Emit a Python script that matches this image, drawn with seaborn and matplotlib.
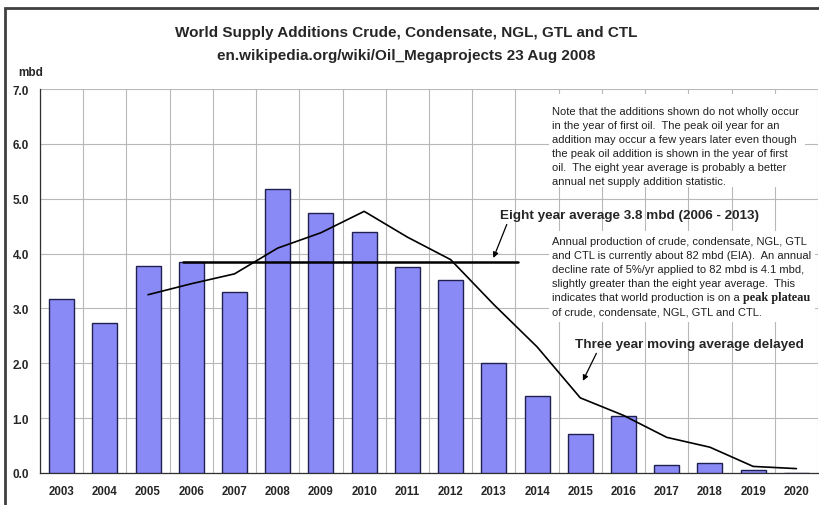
import matplotlib
matplotlib.use("Agg")
import matplotlib.pyplot as plt
from matplotlib import font_manager
from matplotlib.patches import Rectangle
import seaborn as sns
import pandas as pd

# ---- data ----
years = [2003, 2004, 2005, 2006, 2007, 2008, 2009, 2010, 2011, 2012,
         2013, 2014, 2015, 2016, 2017, 2018, 2019, 2020]
additions = [3.17, 2.74, 3.78, 3.85, 3.30, 5.17, 4.74, 4.40, 3.75, 3.52,
             2.00, 1.40, 0.72, 1.04, 0.15, 0.19, 0.05, 0.0]
ma_years = [2005, 2006, 2007, 2008, 2009, 2010, 2011, 2012, 2013, 2014,
            2015, 2016, 2017, 2018, 2019, 2020]
ma_values = [3.25, 3.45, 3.63, 4.10, 4.38, 4.77, 4.30, 3.89, 3.07, 2.30,
             1.37, 1.05, 0.65, 0.47, 0.12, 0.08]
avg8_value = 3.85
avg8_years = (2006, 2013)
yticks = [0.0, 1.0, 2.0, 3.0, 4.0, 5.0, 6.0, 7.0]

title = ("World Supply Additions Crude, Condensate, NGL, GTL and CTL\n"
         "en.wikipedia.org/wiki/Oil_Megaprojects 23 Aug 2008")
note1_lines = ["Note that the additions shown do not wholly occur",
               "in the year of first oil.  The peak oil year for an",
               "addition may occur a few years later even though",
               "the peak oil addition is shown in the year of first",
               "oil.  The eight year average is probably a better",
               "annual net supply addition statistic."]
note2_lines = ["Annual production of crude, condensate, NGL, GTL",
               "and CTL is currently about 82 mbd (EIA).  An annual",
               "decline rate of 5%/yr applied to 82 mbd is 4.1 mbd,",
               "slightly greater than the eight year average.  This",
               "indicates that world production is on a ",
               "of crude, condensate, NGL, GTL and CTL."]
note2_bold = "peak plateau"
note2_bold_line = 4
label_avg = "Eight year average 3.8 mbd (2006 - 2013)"
label_ma = "Three year moving average delayed"

# ---- fonts ----
def has_font(name):
    try:
        font_manager.findfont(font_manager.FontProperties(family=name),
                              fallback_to_default=False)
        return True
    except Exception:
        return False

narrow = "Liberation Sans Narrow" if has_font("Liberation Sans Narrow") else "Liberation Sans"
sns.set_style("white")
plt.rcParams["font.family"] = ["Liberation Sans", "DejaVu Sans"]

df = pd.DataFrame({"year": [str(y) for y in years], "add": additions})

fig = plt.figure(figsize=(8.2, 5.06), dpi=100)
ax = fig.add_axes([40 / 820, 32 / 506, 778 / 820, 384 / 506])

sns.barplot(data=df, x="year", y="add", ax=ax, color="#8a8af6",
            saturation=1, width=0.58, edgecolor="#202050", linewidth=1.0,
            zorder=3)

idx = {y: i for i, y in enumerate(years)}
ma_x = [idx[y] for y in ma_years]
sns.lineplot(x=ma_x, y=ma_values, ax=ax, color="black", linewidth=1.2,
             zorder=4)

x0 = idx[avg8_years[0]] - 0.2
x1 = idx[avg8_years[1]] + 0.55
ax.plot([x0, x1], [avg8_value, avg8_value], color="black", linewidth=1.8,
        zorder=4)

ax.set_xlim(-0.5, len(years) - 0.5)
ax.set_ylim(0, 7)
ax.set_yticks(yticks)
ax.set_yticklabels([f"{v:.1f}" for v in yticks], fontfamily=narrow,
                   fontweight="bold", fontsize=8.5)
ax.set_xticks(range(len(years)))
ax.set_xticklabels([str(y) for y in years], fontfamily=narrow,
                   fontweight="bold", fontsize=8.3)
ax.set_xticks([i + 0.5 for i in range(-1, len(years))], minor=True)
ax.tick_params(axis="x", which="major", length=0, pad=9)
ax.tick_params(axis="x", which="minor", length=5, direction="out",
               color="#303030", width=0.8)
ax.tick_params(axis="y", which="major", length=5, direction="out",
               color="#303030", width=0.8, pad=3)
ax.set_xlabel("")
ax.set_ylabel("")
ax.grid(False)
ax.grid(axis="y", which="major", color="#b8b8b8", linewidth=0.8, zorder=0)
ax.grid(axis="x", which="minor", color="#b8b8b8", linewidth=0.8, zorder=0)
ax.set_axisbelow(True)
for s in ["top", "right"]:
    ax.spines[s].set_visible(False)
for s in ["left", "bottom"]:
    ax.spines[s].set_color("#303030")
    ax.spines[s].set_linewidth(0.9)

# white boxes behind the notes
ax.add_patch(Rectangle((11.28, 5.21), 17.19 - 11.28, 6.91 - 5.21,
                       facecolor="white", edgecolor="none", zorder=5))
ax.add_patch(Rectangle((11.28, 2.75), 17.42 - 11.28, 4.41 - 2.75,
                       facecolor="white", edgecolor="none", zorder=5))

note_fs = 8.0
step_pt = 10.1
for i, line in enumerate(note1_lines):
    ax.annotate(line, xy=(11.34, 6.60), xytext=(0, -i * step_pt),
                textcoords="offset points", fontsize=note_fs, va="center",
                ha="left", color="#202020", zorder=6)
for i, line in enumerate(note2_lines):
    t = ax.annotate(line, xy=(11.34, 4.225), xytext=(0, -i * step_pt),
                    textcoords="offset points", fontsize=note_fs,
                    va="center", ha="left", color="#202020", zorder=6)
    if i == note2_bold_line:
        ax.annotate(note2_bold, xy=(1, 0.5), xycoords=t, fontsize=8.8,
                    fontfamily="Liberation Serif", fontweight="bold",
                    va="center", ha="left", color="#202020", zorder=6)

ax.annotate(label_avg, xy=(9.99, 3.92), xytext=(10.15, 4.70),
            fontsize=9.7, fontweight="bold", va="center", ha="left", zorder=7,
            arrowprops=dict(arrowstyle="-|>", color="black", lw=0.9,
                            mutation_scale=8, shrinkA=0, shrinkB=0,
                            relpos=(0.03, 0.0)))
ax.annotate(label_ma, xy=(12.06, 1.68), xytext=(11.88, 2.35),
            fontsize=9.7, fontweight="bold", va="center", ha="left", zorder=7,
            arrowprops=dict(arrowstyle="-|>", color="black", lw=0.9,
                            mutation_scale=8, shrinkA=0, shrinkB=0,
                            relpos=(0.1, 0.0)))

fig.text(406 / 820, 1 - 44.5 / 506, title, ha="center", va="center",
         fontfamily=narrow, fontweight="bold", fontsize=11,
         linespacing=1.75)
fig.text(18 / 820, 1 - 73 / 506, "mbd", ha="left", va="center",
         fontfamily=narrow, fontweight="bold", fontsize=8.5)

fig.patches.append(Rectangle((5 / 820, -0.2), 1.2, 1.2 - 9 / 506,
                             transform=fig.transFigure, fill=False,
                             edgecolor="#404040", linewidth=2))

fig.savefig("out.png", dpi=100)
